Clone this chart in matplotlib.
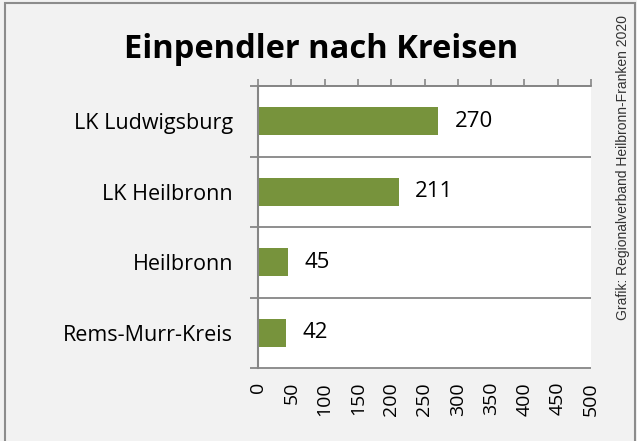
import matplotlib.pyplot as plt
import numpy as np
from matplotlib.patches import Rectangle

categories = ["LK Ludwigsburg", "LK Heilbronn", "Heilbronn", "Rems-Murr-Kreis"]
values = [270, 211, 45, 42]
xticks = [0, 50, 100, 150, 200, 250, 300, 350, 400, 450, 500]

bar_color = "#77933C"
grey = "#868686"

fig = plt.figure(figsize=(6.37, 4.41), dpi=100)
fig.patch.set_facecolor("#F2F2F2")

# outer frame
fig.patches.append(Rectangle((5 / 637, -0.05), 630 / 637, 1 - 3 / 441 + 0.05,
                             transform=fig.transFigure, fill=False,
                             edgecolor="#8C8C8C", linewidth=1.5))

ax = fig.add_axes([258 / 637, 73 / 441, 333 / 637, 282 / 441])
ax.set_facecolor("white")

y = np.arange(len(categories))
ax.barh(y, values, height=0.4, color=bar_color)
ax.set_ylim(len(categories) - 0.5, -0.5)
ax.set_xlim(0, 500)

for yi, v in zip(y, values):
    ax.text(v + 25, yi, str(v), va="center", ha="left",
            fontsize=16, family="Open Sans")

# category separators
for b in np.arange(-0.5, len(categories), 1.0):
    ax.plot([-12, 500], [b, b], color=grey, lw=1.3, clip_on=False,
            solid_capstyle="butt")

ax.set_yticks(y)
ax.set_yticklabels(categories, fontsize=15.5, family="Open Sans")
ax.tick_params(axis="y", length=0, pad=18)

ax.set_xticks(xticks)
ax.set_xticklabels([str(t) for t in xticks], rotation=90, fontsize=14,
                   family="Open Sans")
ax.tick_params(axis="x", top=True, bottom=False, length=5, color=grey,
               width=1.2, pad=5, labeltop=False, labelbottom=True)

for s in ["right", "bottom"]:
    ax.spines[s].set_visible(False)
ax.spines["left"].set_color(grey)
ax.spines["left"].set_linewidth(1.5)
ax.spines["top"].set_color(grey)
ax.spines["top"].set_linewidth(1.3)

fig.text(321 / 637, 1 - 50 / 441, "Einpendler nach Kreisen", ha="center",
         va="center", fontsize=23.5, fontweight="bold", family="Open Sans")
fig.text(623 / 637, 1 - 168 / 441, "Grafik: Regionalverband Heilbronn-Franken 2020",
         rotation=90, ha="center", va="center", fontsize=10,
         family="Liberation Sans", color="#333333")

fig.savefig("out.png", dpi=100, facecolor=fig.get_facecolor())
